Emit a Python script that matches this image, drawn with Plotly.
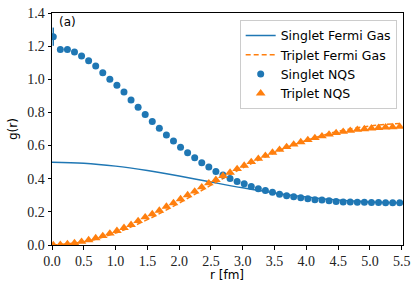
import plotly.graph_objects as go

# NQS grid
r_nqs = [round(0.02 + 0.1112 * i, 4) for i in range(50)]

singlet_nqs = [1.257, 1.180, 1.180, 1.164, 1.140, 1.112, 1.080, 1.040, 1.000, 0.964,
               0.923, 0.875, 0.831, 0.787, 0.745, 0.704, 0.664, 0.628, 0.590, 0.557,
               0.527, 0.497, 0.470, 0.443, 0.423, 0.401, 0.383, 0.369, 0.353, 0.339,
               0.329, 0.319, 0.307, 0.297, 0.291, 0.285, 0.279, 0.273, 0.271, 0.267,
               0.262, 0.260, 0.259, 0.258, 0.258, 0.256, 0.256, 0.255, 0.255, 0.255]
singlet_err = [0.055] + [0.0] * 49

triplet_nqs = [0.000, 0.002, 0.006, 0.012, 0.020, 0.030, 0.042, 0.055, 0.070, 0.086,
               0.104, 0.122, 0.145, 0.168, 0.187, 0.208, 0.232, 0.253, 0.277, 0.301,
               0.323, 0.349, 0.373, 0.393, 0.417, 0.437, 0.459, 0.479, 0.501, 0.521,
               0.539, 0.558, 0.575, 0.592, 0.607, 0.621, 0.634, 0.646, 0.657, 0.667,
               0.676, 0.684, 0.690, 0.696, 0.700, 0.704, 0.707, 0.710, 0.712, 0.714]
triplet_err = [0.0] * 50

# Fermi gas curves (read at sample radii)
r_fg = [0.0, 0.5, 1.0, 1.5, 2.0, 2.5, 3.0, 3.5, 4.0, 4.5, 5.0, 5.52]
singlet_fg = [0.500, 0.494, 0.476, 0.449, 0.416, 0.380, 0.345, 0.314, 0.290, 0.271, 0.260, 0.253]
triplet_fg = [0.000, 0.019, 0.072, 0.153, 0.253, 0.361, 0.465, 0.557, 0.631, 0.686, 0.718, 0.735]

x_ticks = [0.0, 0.5, 1.0, 1.5, 2.0, 2.5, 3.0, 3.5, 4.0, 4.5, 5.0, 5.5]
y_ticks = [0.0, 0.2, 0.4, 0.6, 0.8, 1.0, 1.2, 1.4]

blue = "#1f77b4"
orange = "#ff7f0e"

fig = go.Figure()
fig.add_trace(go.Scatter(x=r_fg, y=singlet_fg, mode="lines", name="Singlet Fermi Gas",
                         line=dict(color=blue, width=1.5, shape="spline")))
fig.add_trace(go.Scatter(x=r_fg, y=triplet_fg, mode="lines", name="Triplet Fermi Gas",
                         line=dict(color=orange, width=1.5, dash="5px,3px", shape="spline")))
fig.add_trace(go.Scatter(x=r_nqs, y=singlet_nqs, mode="markers", name="Singlet NQS",
                         marker=dict(color=blue, size=7, symbol="circle"),
                         error_y=dict(type="data", array=singlet_err, color=blue,
                                      thickness=1.5, width=0)))
fig.add_trace(go.Scatter(x=r_nqs, y=triplet_nqs, mode="markers", name="Triplet NQS",
                         marker=dict(color=orange, size=8.5, symbol="triangle-up"),
                         error_y=dict(type="data", array=triplet_err, color=orange,
                                      thickness=1.5, width=0)))

axis_common = dict(showline=True, linecolor="black", linewidth=1, mirror=True,
                   ticks="outside", ticklen=3.5, tickwidth=0.8, tickcolor="black",
                   showgrid=False, zeroline=False, automargin=False,
                   tickfont=dict(family="Liberation Serif, DejaVu Serif, serif", size=14, color="#222"))

fig.update_layout(
    width=416, height=292,
    margin=dict(l=52, r=13, t=13, b=47),
    paper_bgcolor="white", plot_bgcolor="white",
    font=dict(family="DejaVu Sans, sans-serif", size=11, color="black"),
    xaxis=dict(range=[0, 5.52], tickvals=x_ticks, ticktext=[f"{v:.1f}" for v in x_ticks],
               **axis_common),
    yaxis=dict(range=[0, 1.4], tickvals=y_ticks, ticktext=[f"{v:.1f}" for v in y_ticks],
               **axis_common),
    legend=dict(x=0.982, y=0.97, xanchor="right", yanchor="top",
                bgcolor="rgba(255,255,255,0.8)", bordercolor="#cccccc", borderwidth=1,
                font=dict(family="DejaVu Sans, sans-serif", size=12.5), tracegroupgap=0),
    showlegend=True,
)
fig.add_annotation(text="(a)", xref="paper", yref="paper", x=0.015, y=1.0,
                   xanchor="left", yanchor="top", showarrow=False,
                   font=dict(family="DejaVu Sans, sans-serif", size=12, color="black"))
fig.add_annotation(text="r [fm]", xref="paper", yref="paper", x=0.4986, y=-0.128,
                   xanchor="center", yanchor="middle", showarrow=False,
                   font=dict(family="DejaVu Sans, sans-serif", size=12, color="black"))
fig.add_annotation(text="g(r)", xref="paper", yref="paper", x=-0.111, y=0.5,
                   xanchor="center", yanchor="middle", showarrow=False, textangle=-90,
                   font=dict(family="DejaVu Sans, sans-serif", size=12, color="black"))

fig.write_html("out.html", config={"displayModeBar": False},
               post_script="document.body.style.margin='0';")
